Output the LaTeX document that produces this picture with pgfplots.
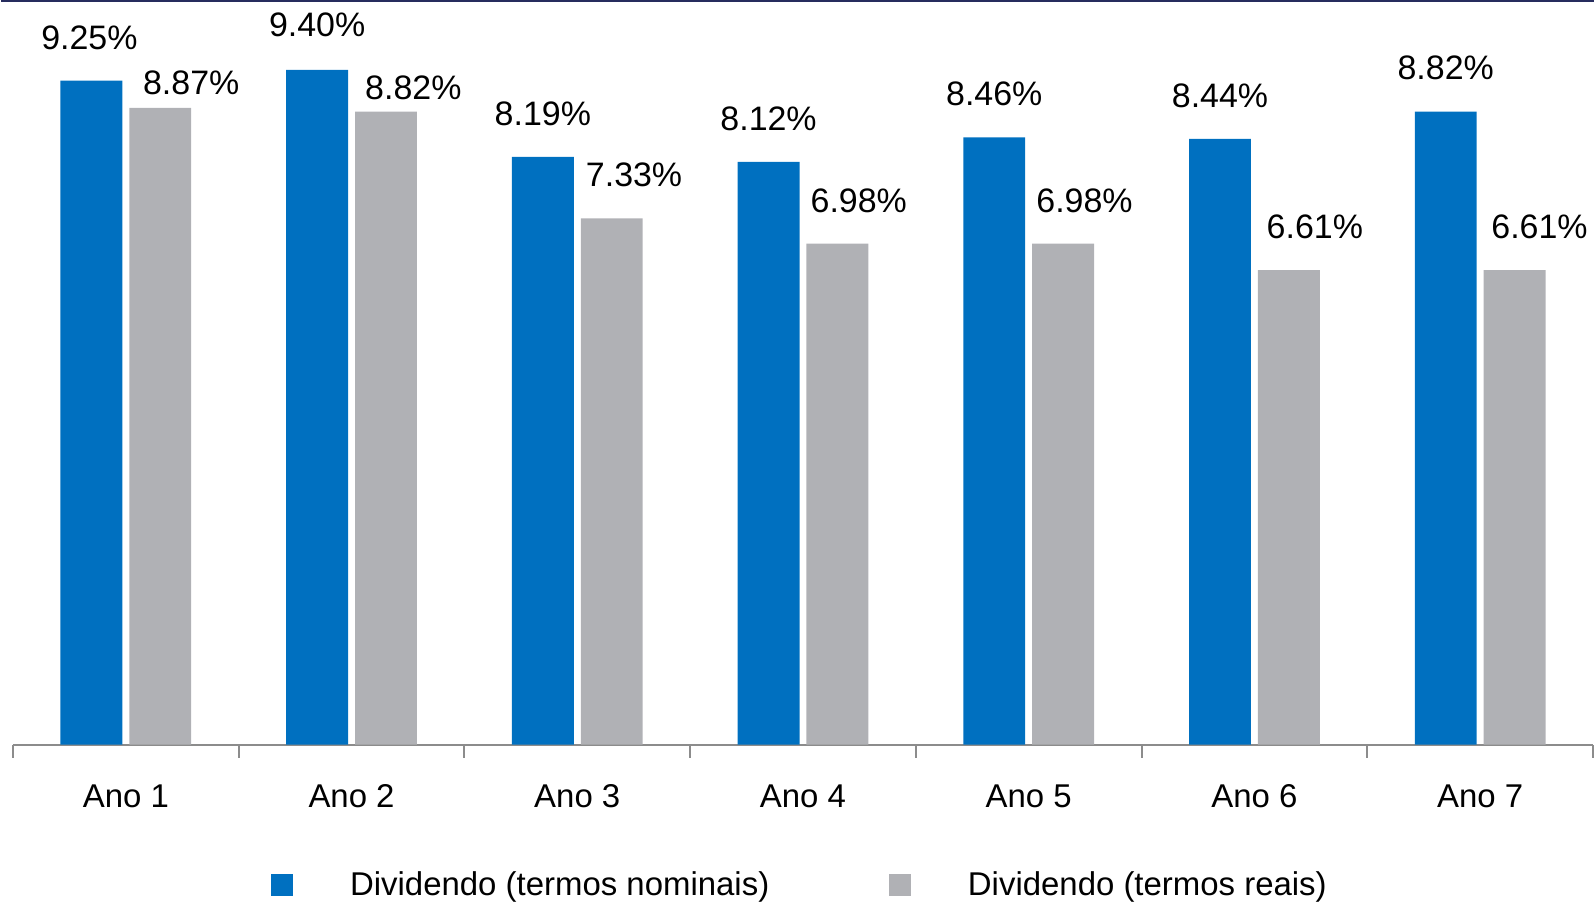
\documentclass[border=0pt]{standalone}
\usepackage{pgfplots}
\pgfplotsset{compat=1.18}
\usepackage{pgfplotstable}
\usepackage{fontspec}
\setmainfont{Liberation Sans}
\definecolor{nomblue}{HTML}{0070C0}
\definecolor{realgray}{HTML}{B0B1B5}
\definecolor{axgray}{HTML}{8C8C8C}
\definecolor{navyline}{HTML}{262C5E}
\newcommand\fsz{\fontsize{16.5}{19}\selectfont}
\newcommand\lsz{\fontsize{17}{20}\selectfont}

\pgfplotstableread{
x y lbl dx dy
1 9.25 9.25 -1 15.8
2 9.40 9.40 0 16.8
3 8.19 8.19 0 15.8
4 8.12 8.12 0 15.8
5 8.46 8.46 0 15.8
6 8.44 8.44 0 15.8
7 8.82 8.82 0 15.8
}\nominal

\pgfplotstableread{
x y lbl dx dy
1 8.87 8.87 15.5 6.6
2 8.82 8.82 13.7 6.1
3 7.33 7.33 11.2 15.8
4 6.98 6.98 10.7 15.8
5 6.98 6.98 10.7 15.8
6 6.61 6.61 13.0 15.8
7 6.61 6.61 12.5 15.8
}\real

\begin{document}
\begin{tikzpicture}
\begin{axis}[
  scale only axis, width=791.5pt, height=372.5pt,
  xmin=0.5, xmax=7.5, ymin=0, ymax=10.36,
  axis x line*=bottom, axis y line=none,
  x axis line style={axgray, line width=1pt},
  xtick={1,2,3,4,5,6,7},
  xticklabels={Ano 1,Ano 2,Ano 3,Ano 4,Ano 5,Ano 6,Ano 7},
  major tick length=0pt,
  minor xtick={0.5,1.5,2.5,3.5,4.5,5.5,6.5,7.5},
  minor tick length=6.5pt,
  tick align=outside,
  minor tick style={axgray, line width=1pt},
  xticklabel style={font=\fsz, inner sep=0pt, yshift=-20pt},
  ybar, bar width=31pt,
  point meta=explicit symbolic,
  nodes near coords={\pgfplotspointmeta\%},
  visualization depends on={\thisrow{dx} \as \dx},
  visualization depends on={\thisrow{dy} \as \dy},
  nodes near coords style={anchor=base, inner sep=0pt, font=\lsz, text=black, xshift=\dx pt, yshift=\dy pt},
  clip=false,
  legend columns=2,
  legend style={at={(0.5,0)}, anchor=center, xshift=-2pt, yshift=-70.5pt,
    draw=none, fill=none, font=\fsz, inner sep=0pt,
    nodes={inner sep=0pt},
    /tikz/every odd column/.append style={column sep=28.5pt},
    /tikz/every even column/.append style={column sep=60pt}},
  legend image code/.code={\fill[#1,draw=none] (0pt,-5.5pt) rectangle (11pt,5.5pt);},
]
\addplot[fill=nomblue, draw=none, bar shift=-17.25pt] table[x=x, y=y, meta=lbl] {\nominal};
\addlegendentry{Dividendo (termos nominais)}
\addplot[fill=realgray, draw=none, bar shift=17.25pt] table[x=x, y=y, meta=lbl] {\real};
\addlegendentry{Dividendo (termos reais)}
\draw[navyline, line width=1pt] ([xshift=-6pt]rel axis cs:0,1) -- ([xshift=0.5pt]rel axis cs:1,1);
\path ([yshift=-80pt]rel axis cs:0,0) -- ([yshift=-80pt]rel axis cs:1,0);
\end{axis}
\end{tikzpicture}
\end{document}
